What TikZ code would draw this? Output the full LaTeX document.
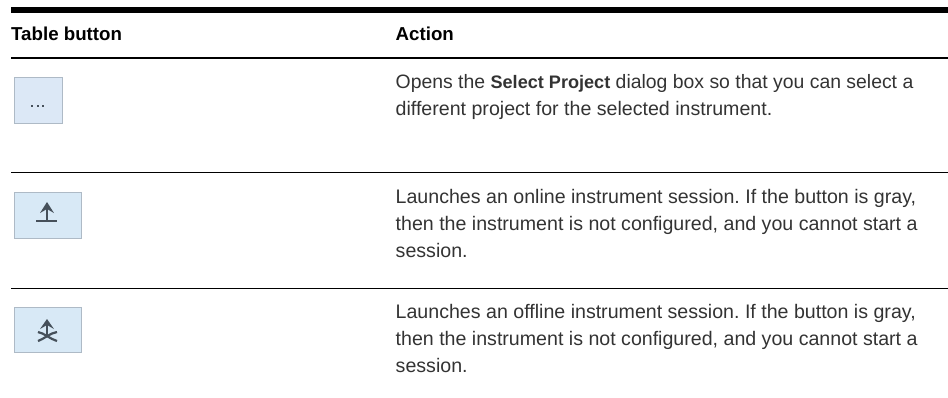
\documentclass[tikz,border=0pt]{standalone}
\usepackage{fontspec}
\setmainfont{Liberation Sans}
\definecolor{txt}{HTML}{333333}
\definecolor{btnA}{HTML}{DCE8F6}
\definecolor{btnB}{HTML}{D8E9F6}
\definecolor{btnEdge}{HTML}{AEBAC6}
\definecolor{ico}{HTML}{46505A}
\newcommand{\firstline}{\rule{0pt}{15pt}}
\tikzset{
  x=1pt,y=-1pt,
  head/.style={anchor=base west,inner sep=0pt,font=\fontsize{18.7}{22}\selectfont\bfseries,text=black},
  body/.style={anchor=north west,inner sep=0pt,align=left,font=\frenchspacing\fontsize{19.6}{27}\selectfont,text=txt},
  btn/.style={draw=btnEdge,line width=1.5pt,inner sep=0pt,anchor=north west},
  icon/.style={draw=ico,line width=1.6pt},
}
\begin{document}
\begin{tikzpicture}
\useasboundingbox (0,0) rectangle (948,397);
\fill[black] (11,7) rectangle (948,13);
\fill[black] (11,57) rectangle (948,59);
\fill[black] (11,171.5) rectangle (948,173);
\fill[black] (11,287.5) rectangle (948,289);
\node[head] (h1) at (11,40) {Table button};
\node[head] (h2) at (395.5,40) {Action};
\node[btn,fill=btnA,minimum width=48pt,minimum height=46pt] (b1) at (13.6,76.6) {};
\node[btn,fill=btnB,minimum width=67pt,minimum height=46pt] (b2) at (13.6,191.6) {};
\node[btn,fill=btnB,minimum width=67pt,minimum height=45pt] (b3) at (13.6,306.6) {};
% icon 1
\foreach \i in {32,37.5,43} \fill[ico] (\i-1,105.2) rectangle (\i+1,107.2);
% icon 2
\draw[icon] (36,220.7) -- (57,220.7);
\draw[icon,line width=1.9pt] (47,220.7) -- (47,206);
\fill[ico] (47,202) -- (54,213) -- (47,209) -- (40,213) -- cycle;
% icon 3
\draw[icon,line width=1.9pt] (47,336) -- (47,322);
\fill[ico] (47,319) -- (54,329) -- (47,325) -- (40,329) -- cycle;
\draw[icon,line width=2.2pt] (38,332) .. controls (44,333) and (50,339) .. (57,341);
\draw[icon,line width=2.2pt] (57,332) .. controls (50,333) and (44,339) .. (38,341);
\node[body] (t1) at (395.5,73) {\fontsize{19.4}{27}\selectfont\firstline Opens the \textbf{\fontsize{18.1}{27}\selectfont Select Project} dialog box so that you can select a\\\fontsize{19.6}{27}\selectfont different project for the selected instrument.};
\node[body] (t2) at (395.5,188) {\firstline Launches an online instrument session. If the button is gray,\\then the instrument is not configured, and you cannot start a\\session.};
\node[body] (t3) at (395.5,303.5) {\firstline Launches an offline instrument session. If the button is gray,\\then the instrument is not configured, and you cannot start a\\session.};
\end{tikzpicture}
\end{document}
